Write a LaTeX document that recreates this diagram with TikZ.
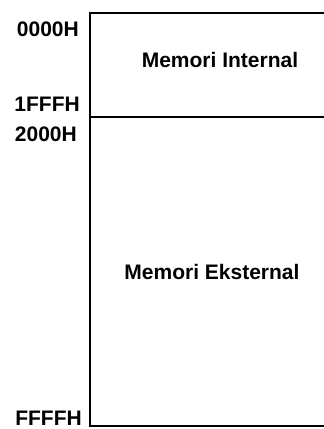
\documentclass[tikz,border=0pt]{standalone}
\usepackage{fontspec}
\setmainfont{Liberation Sans}
\begin{document}
\begin{tikzpicture}[x=1pt,y=1pt,
  addr/.style={anchor=base east,inner sep=0pt,font=\fontsize{21}{24}\selectfont\bfseries},
  region/.style={anchor=base,inner sep=0pt,font=\fontsize{21}{24}\selectfont\bfseries},
  memline/.style={line width=1.6pt}]
\useasboundingbox (0,0) rectangle (324,429);
\coordinate (tl) at (90,416);
\coordinate (tr) at (324,416);
\coordinate (ml) at (90,312);
\coordinate (mr) at (324,312);
\coordinate (bl) at (90,3);
\coordinate (br) at (324,3);
\draw[memline] (tr) -- (tl) -- (bl) -- (br);
\draw[memline] (ml) -- (mr);
\node[addr] (a0) at (79,392.5) {0000H};
\node[addr] (a1) at (80,317) {1FFFH};
\node[addr] (a2) at (77,287) {2000H};
\node[addr] (a3) at (82,4) {FFFFH};
\node[region] (int) at (220,361) {Memori Internal};
\node[region] (ext) at (212,149) {Memori Eksternal};
\end{tikzpicture}
\end{document}
